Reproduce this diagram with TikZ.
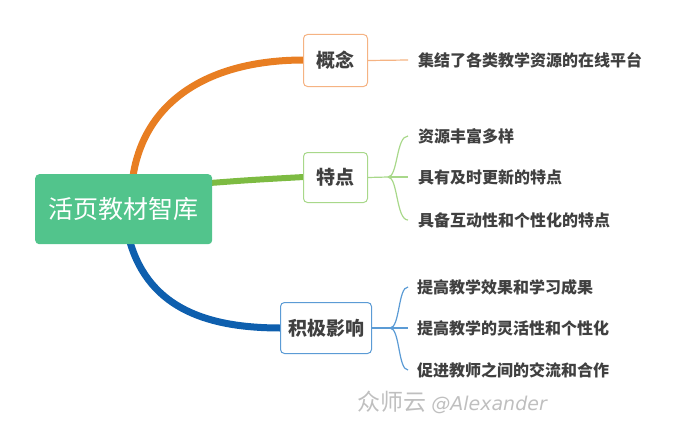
\documentclass[tikz,border=0pt]{standalone}
\usepackage{fontspec}
\setmainfont{Noto Sans CJK SC}
\newfontfamily\wmlatin{DejaVu Sans}
\definecolor{rootgreen}{HTML}{52C48C}
\definecolor{orangeL}{HTML}{E87E22}
\definecolor{orangeB}{HTML}{F5B383}
\definecolor{greenL}{HTML}{7DBB42}
\definecolor{greenB}{HTML}{A8D88A}
\definecolor{blueL}{HTML}{0E5FAE}
\definecolor{blueB}{HTML}{5B9BD5}
\definecolor{txt}{HTML}{404040}
\tikzset{
  rootbox/.style={fill=rootgreen, rounded corners=4pt, text=white, font=\fontsize{25}{28}\selectfont,
    minimum width=177pt, minimum height=70pt, inner sep=0pt, anchor=north west},
  mainbox/.style={draw, line width=1pt, rounded corners=4pt, fill=white, text=txt,
    font=\fontsize{19}{22}\selectfont\bfseries, inner sep=0pt, anchor=north west},
  leaf/.style={anchor=west, text=txt, font=\fontsize{16}{18}\selectfont\bfseries, inner sep=0pt},
  thick branch/.style={line width=7pt},
  thin branch/.style={line width=1.2pt},
}
\begin{document}
\begin{tikzpicture}[x=1pt,y=-1pt]
\useasboundingbox (0,0) rectangle (692,420);
% coordinates on root
\coordinate (rt) at (133,176);
\coordinate (rr) at (210,183);
\coordinate (rb) at (130,242);
\coordinate (gw) at (304,60);
\coordinate (tw) at (304,177);
\coordinate (yw) at (281,328);
% thick branches (drawn first, nodes on top)
\draw[thick branch, orangeL] (rt) .. controls (145,100) and (210,60) .. (gw);
\draw[thick branch, greenL, line width=6pt] (rr) .. controls (250,180) .. (tw);
\draw[thick branch, blueL] (rb) .. controls (150,310) and (210,328) .. (yw);
% root
\node[rootbox] (root) at (35,174) {活页教材智库};
% main nodes
\node[mainbox, draw=orangeB, minimum width=64pt, minimum height=52pt] (gn) at (303,34) {概念};
\node[mainbox, draw=greenB, minimum width=64pt, minimum height=50pt] (td) at (303,152) {特点};
\node[mainbox, draw=blueB, minimum width=91pt, minimum height=51pt] (yx) at (280,302) {积极影响};
% leaves
\node[leaf] (g1) at (418,60) {集结了各类教学资源的在线平台};
\node[leaf] (t1) at (418,136) {资源丰富多样};
\node[leaf] (t2) at (418,177) {具有及时更新的特点};
\node[leaf] (t3) at (418,220) {具备互动性和个性化的特点};
\node[leaf] (y1) at (417,287) {提高教学效果和学习成果};
\node[leaf] (y2) at (417,328) {提高教学的灵活性和个性化};
\node[leaf] (y3) at (417,370) {促进教师之间的交流和合作};
% thin connectors
\coordinate (ge) at (408,60);
\draw[thin branch, orangeB] (gn.east) -- (ge);
\coordinate (tj) at (388,177);
\coordinate (te1) at (408,136);
\coordinate (te2) at (408,177);
\coordinate (te3) at (408,220);
\draw[thin branch, greenB] (td.east) -- (tj);
\draw[thin branch, greenB] (tj) .. controls (398,177) and (396,136) .. (te1);
\draw[thin branch, greenB] (tj) -- (te2);
\draw[thin branch, greenB] (tj) .. controls (398,177) and (396,220) .. (te3);
\coordinate (yj) at (390,328);
\coordinate (ye1) at (408,287);
\coordinate (ye2) at (408,328);
\coordinate (ye3) at (408,370);
\draw[thin branch, blueB] (yx.east) -- (yj);
\draw[thin branch, blueB] (yj) .. controls (400,328) and (398,287) .. (ye1);
\draw[thin branch, blueB] (yj) -- (ye2);
\draw[thin branch, blueB] (yj) .. controls (400,328) and (398,370) .. (ye3);
% watermark
\node[anchor=west, inner sep=0pt, text=black!25, font=\fontsize{23}{26}\selectfont] (wm) at (357,402) {众师云\ {\wmlatin\itshape\fontsize{19}{22}\selectfont @Alexander}};
\end{tikzpicture}
\end{document}
